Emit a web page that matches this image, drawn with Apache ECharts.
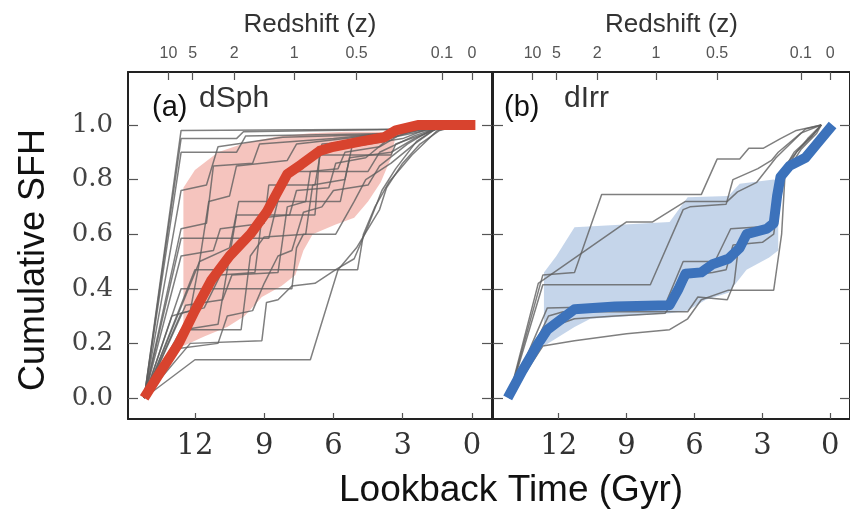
<!DOCTYPE html>
<html>
<head>
<meta charset="utf-8">
<script src="https://cdn.jsdelivr.net/npm/echarts@6.0.0/dist/echarts.min.js"></script>
<style>
html,body{margin:0;padding:0;background:#fff;}
#chart{width:850px;height:514px;}
</style>
</head>
<body>
<div id="chart"></div>
<script>
// bottom axis: lookback time (Gyr)
var timeTicks = [0, 3, 6, 9, 12];
// top axis: redshift, placed at the matching lookback time
var zLabels = ['10', '5', '2', '1', '0.5', '0.1', '0'];
var zTimes = [13.15, 12.1, 10.3, 7.7, 5.0, 1.3, 0];
var sfhTicks = [0, 0.2, 0.4, 0.6, 0.8, 1.0];

// (a) dSph  -- [lookback time, cumulative SFH]
var dsphMedian = [[14.2,0],[13.5,0.095],[12.7,0.2],[12.0,0.32],[11.3,0.43],[10.5,0.52],[9.6,0.6],[8.9,0.68],[8.45,0.75],[8.0,0.82],[7.4,0.855],[6.6,0.905],[6.0,0.92],[4.8,0.94],[3.8,0.955],[3.3,0.98],[2.3,1.0],[0.8,1.0],[-0.15,1.0]];
var dsphBandTop = [[12.5,0.77],[12.0,0.835],[11.0,0.9],[9.8,0.935],[8.4,0.958],[7.0,0.97],[5.5,0.975],[4.0,0.975],[3.4,0.96]];
var dsphBandBottom = [[12.5,0.19],[11.6,0.225],[10.6,0.26],[9.85,0.3],[9.1,0.37],[8.25,0.41],[7.65,0.45],[7.3,0.54],[6.9,0.6],[5.9,0.635],[5.1,0.66],[4.5,0.72],[3.95,0.79],[3.5,0.88],[3.35,0.94]];
var dsphGalaxies = [
  [[14.2,0],[12.6,0.98],[1.5,0.985],[0.5,1]],
  [[14.2,0],[12.6,0.95],[10.2,0.95],[9.9,0.975],[2,0.985],[0.5,1]],
  [[14.2,0],[12.6,0.90],[10.2,0.90],[9.8,0.96],[3.0,0.97],[1.5,0.99],[0.5,1]],
  [[14.2,0],[12.6,0.76],[11.5,0.78],[11.0,0.92],[8.2,0.955],[4.0,0.965],[1.8,0.99],[0.5,1]],
  [[14.2,0],[12.6,0.585],[8.8,0.585],[8.1,0.83],[4.5,0.83],[4.0,0.9],[2.5,0.96],[1.5,0.99],[0.5,1]],
  [[14.2,0],[11.8,0.5],[10.5,0.55],[10.1,0.72],[5.7,0.72],[5.3,0.88],[3.5,0.9],[2.5,0.95],[1.4,0.99],[0.5,1]],
  [[14.2,0],[12.5,0.25],[11.0,0.27],[10.2,0.67],[6.8,0.67],[6.6,0.89],[3.5,0.89],[3.3,0.93],[2.0,0.97],[1.2,1],[0.5,1]],
  [[14.2,0],[12.6,0.52],[11.2,0.54],[10.9,0.62],[9.0,0.64],[8.8,0.78],[6.8,0.78],[6.5,0.93],[4.0,0.945],[2.0,0.98],[0.5,1]],
  [[14.2,0],[12.0,0.47],[4.95,0.47],[4.7,0.6],[4.2,0.7],[3.6,0.79],[2.6,0.89],[1.5,0.98],[0.5,1]],
  [[14.2,0],[12.6,0.40],[7.8,0.40],[7.6,0.55],[7.3,0.6],[5.9,0.6],[5.1,0.72],[4.6,0.8],[3.5,0.86],[2.5,0.93],[1.5,0.99],[0.5,1]],
  [[14.2,0],[12.0,0.14],[7.0,0.14],[5.8,0.47],[5.0,0.55],[4.0,0.69],[3.7,0.77],[3.0,0.86],[2.25,0.93],[1.4,0.98],[0.5,1]],
  [[14.2,0],[12.2,0.2],[9.1,0.21],[8.9,0.35],[8.4,0.36],[7.8,0.41],[6.8,0.42],[5.9,0.47],[5.1,0.51],[4.5,0.63],[3.9,0.76],[3.3,0.84],[2.4,0.94],[1.5,0.99],[0.5,1]],
  [[14.2,0],[12.6,0.25],[10.0,0.25],[9.6,0.52],[9.0,0.59],[7.2,0.6],[6.9,0.78],[5.5,0.8],[5.2,0.92],[3.0,0.95],[1.8,0.99],[0.5,1]],
  [[14.2,0],[13.0,0.3],[12.2,0.32],[11.8,0.5],[11.4,0.72],[10.5,0.74],[10.2,0.85],[8.0,0.87],[7.6,0.93],[5.0,0.955],[2.0,0.99],[0.5,1]],
  [[14.2,0],[12.6,0.62],[11.5,0.64],[11.2,0.85],[9.5,0.86],[9.2,0.93],[6.0,0.95],[2.5,0.98],[0.5,1]],
  [[14.2,0],[12.4,0.34],[10.8,0.36],[10.4,0.45],[8.4,0.46],[8.0,0.7],[7.2,0.72],[7.0,0.83],[5.8,0.84],[5.5,0.9],[4.0,0.92],[3.2,0.96],[2.0,0.99],[0.5,1]],
  [[14.2,0],[12.8,0.18],[11.0,0.2],[10.6,0.3],[9.5,0.32],[9.0,0.42],[8.4,0.52],[7.8,0.54],[7.3,0.68],[6.5,0.7],[6.0,0.76],[4.5,0.78],[4.0,0.85],[2.8,0.93],[1.8,0.98],[0.5,1]],
  [[14.2,0],[12.6,0.31],[11.6,0.33],[10.9,0.45],[9.4,0.46],[9.1,0.66],[7.9,0.67],[7.6,0.76],[6.2,0.77],[5.9,0.86],[4.6,0.88],[3.6,0.95],[2.2,0.99],[0.5,1]]
];

// (b) dIrr
var dirrMedian = [[14.25,0],[13.6,0.1],[12.9,0.2],[12.5,0.25],[11.3,0.325],[9.5,0.335],[7.1,0.34],[6.7,0.4],[6.4,0.455],[5.7,0.46],[5.2,0.49],[4.5,0.51],[4.0,0.55],[3.7,0.6],[2.8,0.62],[2.5,0.64],[2.35,0.74],[2.2,0.81],[1.8,0.85],[1.1,0.88],[0.6,0.93],[-0.1,1.0]];
var dirrBandTop = [[12.65,0.46],[12.1,0.52],[11.3,0.625],[7.1,0.645],[6.3,0.735],[4.5,0.74],[4.0,0.785],[2.5,0.8],[2.3,0.795]];
var dirrBandBottom = [[12.65,0.19],[11.3,0.26],[10.6,0.29],[7.1,0.31],[6.3,0.32],[5.5,0.36],[4.5,0.385],[3.7,0.47],[2.7,0.515],[2.3,0.54]];
var dirrGalaxies = [
  [[14.2,0],[12.7,0.45],[11.3,0.46],[10.1,0.745],[5.7,0.745],[5.0,0.875],[4.0,0.875],[3.6,0.915],[2.95,0.915],[2.2,0.95],[1.5,0.98],[0.4,1.0]],
  [[14.2,0],[12.9,0.42],[9.0,0.645],[7.85,0.645],[6.4,0.72],[4.55,0.72],[4.1,0.755],[3.25,0.79],[2.4,0.88],[1.1,0.985],[0.4,1.0]],
  [[14.2,0],[12.7,0.415],[7.95,0.415],[6.5,0.69],[6.2,0.7],[4.6,0.71],[4.3,0.8],[3.2,0.84],[2.6,0.87],[2.3,0.9],[1.3,0.97],[0.4,1.0]],
  [[14.2,0],[12.5,0.33],[7.3,0.34],[6.9,0.42],[6.5,0.5],[5.1,0.5],[4.4,0.62],[2.5,0.63],[2.3,0.74],[2.1,0.83],[1.6,0.9],[0.8,0.96],[0.4,1.0]],
  [[14.2,0],[12.45,0.30],[11.8,0.316],[6.3,0.316],[5.85,0.37],[4.55,0.36],[4.25,0.42],[4.05,0.56],[3.4,0.6],[2.6,0.64],[2.2,0.8],[1.5,0.9],[0.8,0.96],[0.4,1.0]],
  [[14.2,0],[12.7,0.19],[11.3,0.21],[9.0,0.235],[7.1,0.25],[6.3,0.29],[5.7,0.36],[4.5,0.395],[2.5,0.395],[2.15,0.6],[2.0,0.82],[1.3,0.91],[0.6,0.97],[0.4,1.0]],
  [[14.2,0],[12.6,0.24],[12.0,0.27],[11.3,0.29],[9.5,0.3],[7.3,0.31],[6.7,0.38],[6.2,0.45],[5.2,0.46],[4.6,0.47],[4.3,0.56],[3.0,0.57],[2.5,0.6],[2.3,0.72],[1.9,0.86],[1.0,0.95],[0.4,1.0]]
];

var sans = '"Liberation Sans", Arial, sans-serif';
var serif = '"DejaVu Serif", serif';
var tMin = -0.87, tMax = 14.9;
var yMin = -0.077, yMax = 1.194;

function xAxes(p) {
    var spine = {onZero: false, lineStyle: {color: '#222', width: 2}};
    return [{
        gridIndex: p, type: 'value', position: 'bottom', min: tMin, max: tMax, inverse: true,
        axisLine: spine,
        axisTick: {inside: true, length: 6, customValues: timeTicks, lineStyle: {color: '#555', width: 1.2}},
        axisLabel: {customValues: timeTicks, fontFamily: serif, fontSize: 29, color: '#333', margin: 13},
        splitLine: {show: false}
    }, {
        gridIndex: p, type: 'value', position: 'top', min: tMin, max: tMax, inverse: true,
        name: 'Redshift (z)', nameLocation: 'middle', nameGap: 34,
        nameTextStyle: {fontFamily: sans, fontSize: 26, color: '#333'},
        axisLine: spine,
        axisTick: {inside: true, length: 8, customValues: zTimes, lineStyle: {color: '#555', width: 1.2}},
        axisLabel: {
            customValues: zTimes, fontFamily: sans, fontSize: 16, color: '#555', margin: 10,
            formatter: function (v) { return zLabels[zTimes.indexOf(v)]; }
        },
        splitLine: {show: false}
    }];
}

function yAxes(p) {
    var spine = {onZero: false, lineStyle: {color: '#222', width: 2}};
    var tick = {inside: true, length: 10, customValues: sfhTicks, lineStyle: {color: '#555', width: 1.2}};
    return [{
        gridIndex: p, type: 'value', position: 'left', min: yMin, max: yMax,
        axisLine: spine, axisTick: tick,
        axisLabel: {
            show: p == 0, customValues: sfhTicks, fontFamily: serif, fontSize: 26, color: '#444', margin: 15,
            formatter: function (v) { return v.toFixed(1); }
        },
        splitLine: {show: false}
    }, {
        gridIndex: p, type: 'value', position: 'right', min: yMin, max: yMax,
        axisLine: spine, axisTick: tick,
        axisLabel: {show: false},
        splitLine: {show: false}
    }];
}

function galaxyLines(list, p) {
    return list.map(function (d) {
        return {
            type: 'line', xAxisIndex: 2 * p, yAxisIndex: 2 * p, data: d,
            symbol: 'none', silent: true,
            lineStyle: {color: 'rgba(95,95,95,0.8)', width: 1.5}
        };
    });
}

function band(top, bottom, p, color) {
    return {
        type: 'custom', xAxisIndex: 2 * p, yAxisIndex: 2 * p, silent: true,
        data: [[7, 0.5]],
        renderItem: function (params, api) {
            var pts = top.concat(bottom.slice().reverse()).map(function (d) { return api.coord(d); });
            return {type: 'polygon', shape: {points: pts}, style: {fill: color}};
        }
    };
}

function median(d, p, color) {
    return {
        type: 'line', xAxisIndex: 2 * p, yAxisIndex: 2 * p, data: d,
        symbol: 'none', silent: true,
        lineStyle: {color: color, width: 10, join: 'round'}
    };
}

var chart = echarts.init(document.getElementById('chart'));
chart.setOption({
    animation: false,
    backgroundColor: '#fff',
    grid: [
        {left: 128, top: 72, width: 364, height: 347},
        {left: 493, top: 72, width: 365, height: 347}
    ],
    xAxis: xAxes(0).concat(xAxes(1)),
    yAxis: yAxes(0).concat(yAxes(1)),
    graphic: [
        {type: 'text', left: 152, top: 93, style: {text: '(a)', fontFamily: sans, fontSize: 29, fill: '#111'}},
        {type: 'text', left: 199, top: 84, style: {text: 'dSph', fontFamily: sans, fontSize: 30, fill: '#333'}},
        {type: 'text', left: 504, top: 93, style: {text: '(b)', fontFamily: sans, fontSize: 29, fill: '#111'}},
        {type: 'text', left: 564, top: 84, style: {text: 'dIrr', fontFamily: sans, fontSize: 30, fill: '#333'}},
        {type: 'text', x: 511, y: 491, style: {text: 'Lookback Time (Gyr)', fontFamily: sans, fontSize: 37, fill: '#111', textAlign: 'center', textVerticalAlign: 'middle'}},
        {type: 'text', x: 34, y: 260, rotation: Math.PI / 2, style: {text: 'Cumulative SFH', fontFamily: sans, fontSize: 36, fill: '#111', textAlign: 'center', textVerticalAlign: 'middle'}}
    ],
    series: []
        .concat(galaxyLines(dsphGalaxies, 0))
        .concat([band(dsphBandTop, dsphBandBottom, 0, 'rgba(225,85,70,0.35)'), median(dsphMedian, 0, '#d8432e')])
        .concat(galaxyLines(dirrGalaxies, 1))
        .concat([band(dirrBandTop, dirrBandBottom, 1, 'rgba(75,125,190,0.32)'), median(dirrMedian, 1, '#3c72bb')])
});
</script>
</body>
</html>
